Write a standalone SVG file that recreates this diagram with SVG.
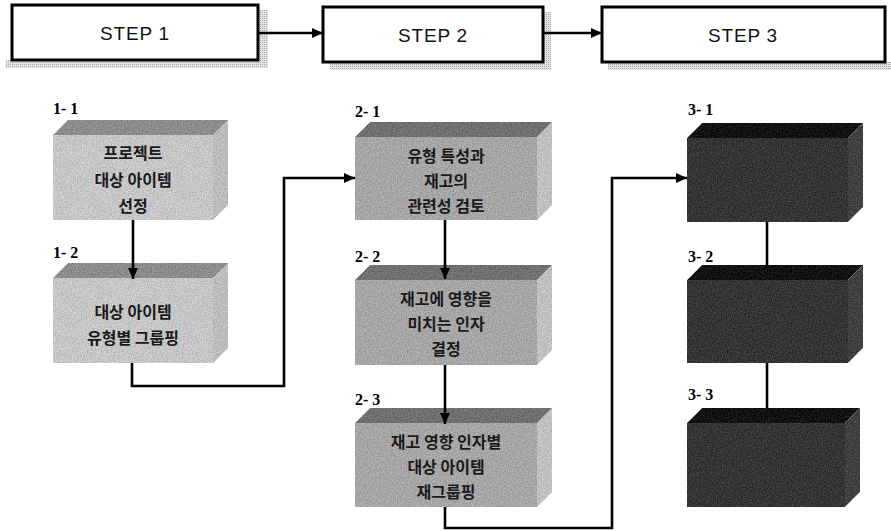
<svg xmlns="http://www.w3.org/2000/svg" width="891" height="531" viewBox="0 0 891 531">
<defs>
  <marker id="ah" markerUnits="userSpaceOnUse" markerWidth="12" markerHeight="10" refX="11" refY="5" orient="auto">
    <path d="M0,0 L11,5 L0,10 Z" fill="#000"/>
  </marker>
  <filter id="grain" x="0" y="0" width="100%" height="100%" color-interpolation-filters="sRGB">
    <feTurbulence type="fractalNoise" baseFrequency="0.8" numOctaves="2" seed="3" result="n"/>
    <feColorMatrix in="n" type="matrix" values="1 0 0 0 0  1 0 0 0 0  1 0 0 0 0  0 0 0 0 1" result="g"/>
    <feComposite in="SourceGraphic" in2="g" operator="arithmetic" k1="0" k2="1" k3="0.3" k4="-0.15" result="mix"/>
    <feComposite in="mix" in2="SourceAlpha" operator="in"/>
  </filter>
  <pattern id="dots" width="2" height="2" patternUnits="userSpaceOnUse">
    <rect width="2" height="2" fill="#e4e4e4"/>
    <rect width="1" height="1" fill="#a8a8a8"/>
  </pattern>
</defs>
<style>
  .step { fill: #fff; stroke: #000; stroke-width: 3; }
  .shadow { fill: url(#dots); }
  .steptxt { font-family: "Liberation Sans", Arial, sans-serif; font-size: 19px; fill: #111; text-anchor: middle; letter-spacing: 0.8px; }
  .lbl { font-family: "Liberation Serif", "Times New Roman", serif; font-size: 16px; font-weight: bold; fill: #000; }
  .ktxt { font-family: "Noto Sans CJK KR", "Noto Sans", sans-serif; font-size: 16px; font-weight: bold; fill: #1a1a1a; text-anchor: middle; }
  .conn { fill: none; stroke: #000; stroke-width: 2.6; }
  .lf { fill: #c6c6c6; } .lt { fill: #8c8c8c; } .ls { fill: #bcbcbc; }
  .mf { fill: #a6a6a6; } .mt { fill: #707070; } .ms { fill: #c0c0c0; }
  .df { fill: #353535; } .dt { fill: #121212; } .ds { fill: #404040; }
</style>

<g id="step1">
  <rect class="shadow" x="6" y="60" width="262" height="8"/>
  <rect class="shadow" x="258" y="10" width="10" height="58"/>
  <rect class="step" x="12" y="5" width="246" height="55"/>
  <text class="steptxt" x="135" y="40">STEP 1</text>
</g>
<g id="step2">
  <rect class="shadow" x="330" y="62" width="221" height="8"/>
  <rect class="shadow" x="543" y="12" width="8" height="58"/>
  <rect class="step" x="323" y="7" width="220" height="55"/>
  <text class="steptxt" x="433" y="42">STEP 2</text>
</g>
<g id="step3">
  <rect class="shadow" x="608" y="62" width="283" height="8"/>
  <rect class="step" x="602" y="7" width="283" height="55"/>
  <text class="steptxt" x="743" y="42">STEP 3</text>
</g>

<g id="n1-1">
  <text class="lbl" x="53" y="114">1- 1</text>
  <g filter="url(#grain)">
    <polygon class="lt" points="53,135 68,120 228,120 213,135"/>
    <polygon class="ls" points="213,135 228,120 228,205 213,220"/>
    <rect class="lf" x="53" y="135" width="160" height="85"/>
  </g>
  <text class="ktxt" x="133" y="159">프로젝트</text>
  <text class="ktxt" x="133" y="186">대상 아이템</text>
  <text class="ktxt" x="133" y="212">선정</text>
</g>
<g id="n1-2">
  <text class="lbl" x="53" y="258">1- 2</text>
  <g filter="url(#grain)">
    <polygon class="lt" points="53,278 68,263 228,263 213,278"/>
    <polygon class="ls" points="213,278 228,263 228,348 213,363"/>
    <rect class="lf" x="53" y="278" width="160" height="85"/>
  </g>
  <text class="ktxt" x="133" y="318">대상 아이템</text>
  <text class="ktxt" x="133" y="344">유형별 그룹핑</text>
</g>

<g id="n2-1">
  <text class="lbl" x="355" y="117">2- 1</text>
  <g filter="url(#grain)">
    <polygon class="mt" points="355,137 370,122 552,122 537,137"/>
    <polygon class="ms" points="537,137 552,122 552,205 537,220"/>
    <rect class="mf" x="355" y="137" width="182" height="83"/>
  </g>
  <text class="ktxt" x="446" y="162">유형 특성과</text>
  <text class="ktxt" x="446" y="187">재고의</text>
  <text class="ktxt" x="446" y="212">관련성 검토</text>
</g>
<g id="n2-2">
  <text class="lbl" x="355" y="262">2- 2</text>
  <g filter="url(#grain)">
    <polygon class="mt" points="355,280 370,265 552,265 537,280"/>
    <polygon class="ms" points="537,280 552,265 552,350 537,365"/>
    <rect class="mf" x="355" y="280" width="182" height="85"/>
  </g>
  <text class="ktxt" x="446" y="305">재고에 영향을</text>
  <text class="ktxt" x="446" y="330">미치는 인자</text>
  <text class="ktxt" x="446" y="355">결정</text>
</g>
<g id="n2-3">
  <text class="lbl" x="355" y="405">2- 3</text>
  <g filter="url(#grain)">
    <polygon class="mt" points="355,423 370,408 552,408 537,423"/>
    <polygon class="ms" points="537,423 552,408 552,492 537,507"/>
    <rect class="mf" x="355" y="423" width="182" height="84"/>
  </g>
  <text class="ktxt" x="446" y="448">재고 영향 인자별</text>
  <text class="ktxt" x="446" y="473">대상 아이템</text>
  <text class="ktxt" x="446" y="498">재그룹핑</text>
</g>

<g id="n3-1">
  <text class="lbl" x="688" y="115">3- 1</text>
  <g filter="url(#grain)">
    <polygon class="dt" points="687,138 702,123 863,123 848,138"/>
    <polygon class="ds" points="848,138 863,123 863,207 848,222"/>
    <rect class="df" x="687" y="138" width="161" height="84"/>
  </g>
</g>
<g id="n3-2">
  <text class="lbl" x="688" y="262">3- 2</text>
  <g filter="url(#grain)">
    <polygon class="dt" points="687,280 702,265 863,265 848,280"/>
    <polygon class="ds" points="848,280 863,265 863,348 848,363"/>
    <rect class="df" x="687" y="280" width="161" height="83"/>
  </g>
</g>
<g id="n3-3">
  <text class="lbl" x="688" y="400">3- 3</text>
  <g filter="url(#grain)">
    <polygon class="dt" points="687,423 702,408 860,408 845,423"/>
    <polygon class="ds" points="845,423 860,408 860,492 845,507"/>
    <rect class="df" x="687" y="423" width="158" height="84"/>
  </g>
</g>

<g id="connectors">
  <line class="conn" x1="258" y1="33" x2="323" y2="33" marker-end="url(#ah)"/>
  <line class="conn" x1="543" y1="33" x2="602" y2="33" marker-end="url(#ah)"/>
  <line class="conn" x1="133" y1="220" x2="133" y2="279" marker-end="url(#ah)"/>
  <path class="conn" d="M132,363 V386 H284 V178 H355" marker-end="url(#ah)"/>
  <line class="conn" x1="445" y1="220" x2="445" y2="279" marker-end="url(#ah)"/>
  <line class="conn" x1="445" y1="365" x2="445" y2="424" marker-end="url(#ah)"/>
  <path class="conn" d="M445,507 V528 H612 V178 H687" marker-end="url(#ah)"/>
  <line class="conn" x1="767" y1="222" x2="767" y2="265"/>
  <line class="conn" x1="767" y1="363" x2="767" y2="408"/>
</g>
</svg>
